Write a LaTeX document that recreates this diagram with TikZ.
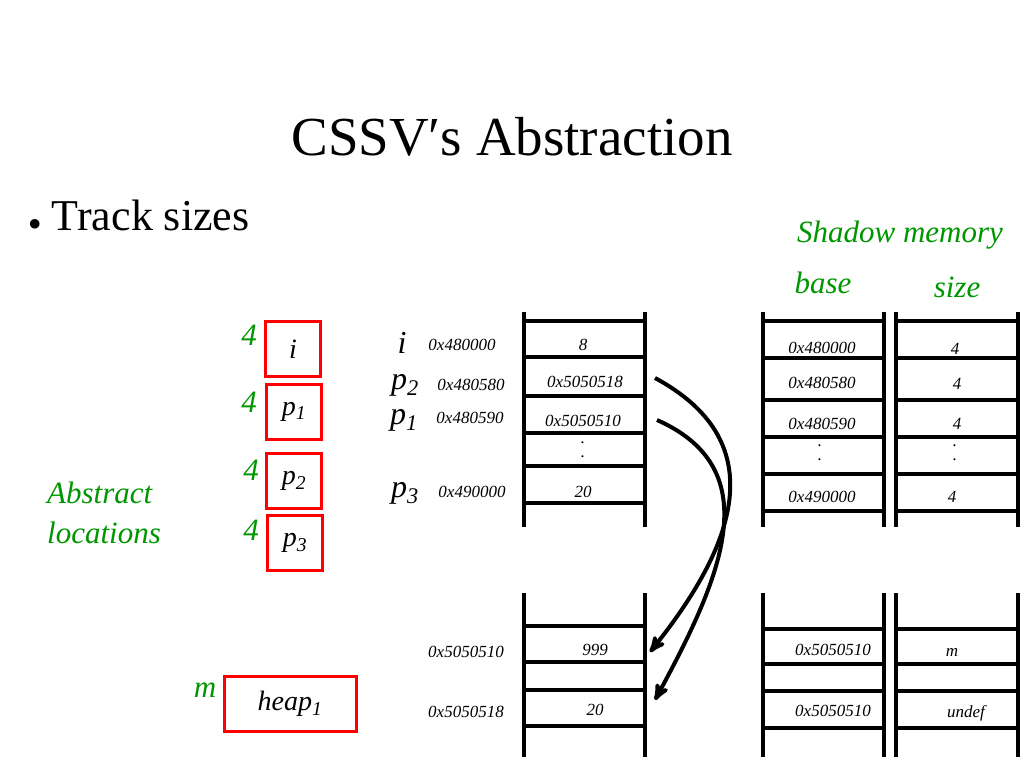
\documentclass[tikz,border=0pt]{standalone}
\usepackage{fontspec}
\setmainfont{Liberation Serif}
\usetikzlibrary{arrows}
\definecolor{absgreen}{RGB}{0,150,0}
\tikzset{
  cell/.style={font=\itshape\fontsize{17}{17}\selectfont, inner sep=0pt},
  lbl/.style={font=\itshape\fontsize{17}{17}\selectfont, inner sep=0pt},
  var/.style={font=\itshape\fontsize{32}{32}\selectfont, inner sep=0pt},
  gr/.style={font=\itshape\fontsize{31}{31}\selectfont, text=absgreen, inner sep=0pt},
  loc/.style={draw=red, line width=3pt, minimum width=55pt, minimum height=55pt, font=\itshape\fontsize{28}{28}\selectfont},
  mem/.style={line width=3.5pt},
  ptr/.style={->, >=stealth', line width=4pt}
}
\begin{document}
\begin{tikzpicture}[x=1pt,y=-1pt]
  \useasboundingbox (0,0) rectangle (1024,768);

  \node (title) at (512,137) {\fontsize{55}{55}\selectfont CSSV′s Abstraction};
  \node[anchor=west] (bullet) at (25,215) {\fontsize{44}{44}\selectfont$\bullet$\ Track sizes};
  \node[gr] (shadow) at (900,235) {Shadow memory};
  \node[gr] (base) at (823,283) {base};
  \node[gr] (size) at (957,287) {size};

  % abstract locations
  \node[loc] (i) at (293,349) {i};
  \node[loc] (p1) at (294,412) {p\textsubscript{1}};
  \node[loc] (p2) at (294,481) {p\textsubscript{2}};
  \node[loc] (p3) at (295,543) {p\textsubscript{3}};
  \node[loc, minimum width=132pt] (heap) at (290,704) {heap\textsubscript{1}};
  \node[gr] (ni) at (249,335) {4};
  \node[gr] (np1) at (249,402) {4};
  \node[gr] (np2) at (251,470) {4};
  \node[gr] (np3) at (251,530) {4};
  \node[gr] (nheap) at (205,690) {m};
  \node[gr, anchor=west] (abs1) at (47,493) {Abstract};
  \node[gr, anchor=west] (abs2) at (47,533) {locations};

  % memory columns
  \begin{scope}[mem]
    \foreach \l/\r in {524/645,763/884,896/1018} {
      \draw (\l,312) -- (\l,527);
      \draw (\r,312) -- (\r,527);
      \draw (\l,593) -- (\l,757);
      \draw (\r,593) -- (\r,757);
    }
    \foreach \y in {321,357,396,433,466,503}
      \draw (524,\y) -- (645,\y);
    \foreach \y in {321,358,400,437,474,511} {
      \draw (763,\y) -- (884,\y);
      \draw (896,\y) -- (1018,\y);
    }
    \foreach \y in {626,662,690,726}
      \draw (523,\y) -- (645,\y);
    \foreach \y in {629,664,691,728} {
      \draw (763,\y) -- (884,\y);
      \draw (896,\y) -- (1018,\y);
    }
  \end{scope}

  % stack contents
  \node[var] (vi) at (402,343) {i};
  \node[var] (vp2) at (405,385) {p\textsubscript{2}};
  \node[var] (vp1) at (404,420) {p\textsubscript{1}};
  \node[var] (vp3) at (405,493) {p\textsubscript{3}};
  \node[lbl] (ai) at (462,345) {0x480000};
  \node[lbl] (ap2) at (471,385) {0x480580};
  \node[lbl] (ap1) at (470,418) {0x480590};
  \node[lbl] (ap3) at (472,492) {0x490000};
  \node[cell] (ci) at (583,345) {8};
  \node[cell] (cp2) at (585,382) {0x5050518};
  \node[cell] (cp1) at (583,421) {0x5050510};
  \node[cell] (cd1) at (583,443) {.};
  \node[cell] (cd2) at (583,457) {.};
  \node[cell] (cp3) at (583,492) {20};

  % shadow base / size
  \node[cell] (bi) at (822,348) {0x480000};
  \node[cell] (bp2) at (822,383) {0x480580};
  \node[cell] (bp1) at (822,424) {0x480590};
  \node[cell] (bd1) at (820,446) {.};
  \node[cell] (bd2) at (820,460) {.};
  \node[cell] (bp3) at (822,497) {0x490000};
  \node[cell] (si) at (955,349) {4};
  \node[cell] (sp2) at (957,384) {4};
  \node[cell] (sp1) at (957,424) {4};
  \node[cell] (sd1) at (955,446) {.};
  \node[cell] (sd2) at (955,460) {.};
  \node[cell] (sp3) at (952,497) {4};

  % heap
  \node[lbl] (ah1) at (466,652) {0x5050510};
  \node[lbl] (ah2) at (466,712) {0x5050518};
  \node[cell] (h1) at (595,650) {999};
  \node[cell] (h2) at (595,710) {20};
  \node[cell] (hb1) at (833,650) {0x5050510};
  \node[cell] (hb2) at (833,711) {0x5050510};
  \node[cell] (hs1) at (952,652) {m};
  \node[cell] (hs2) at (966,713) {undef};

  \coordinate (from2) at (655,378);
  \coordinate (from1) at (657,420);
  \coordinate (to1) at (650,652);
  \coordinate (to2) at (655,700);
  \draw[ptr] (from2) .. controls (770,440) and (740,540) .. (to1);
  \draw[ptr] (from1) .. controls (770,470) and (720,580) .. (to2);
\end{tikzpicture}
\end{document}
